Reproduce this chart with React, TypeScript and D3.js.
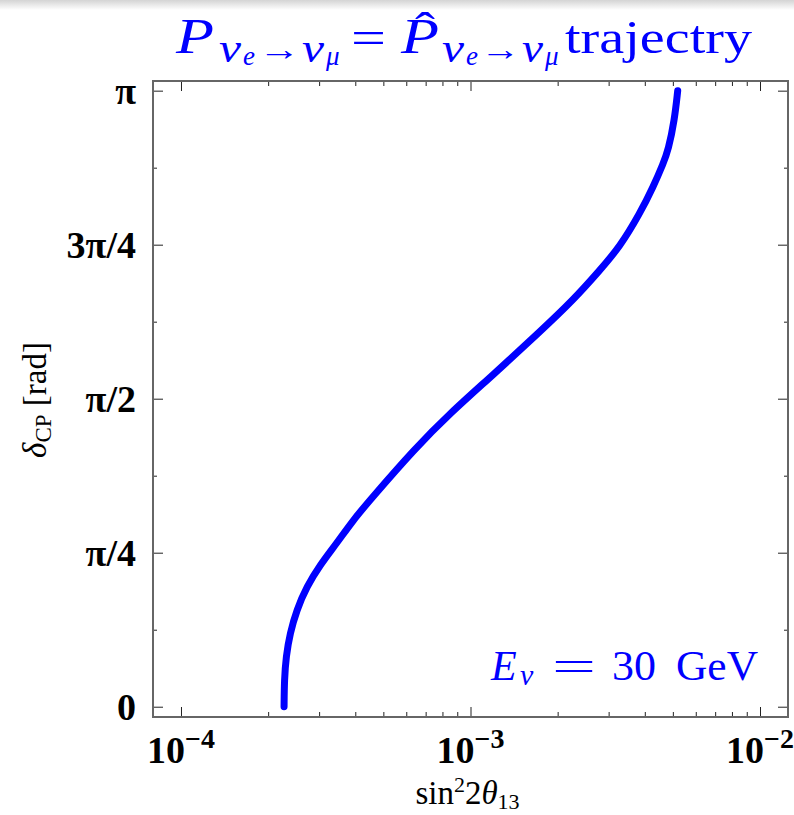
import React, { useEffect, useRef } from 'react';
import * as d3 from 'd3';

// points read along the trajectory: sin^2 2theta13 and delta_CP (in units of pi)
const sin2Theta13 = [2.270e-4, 2.275e-4, 2.306e-4, 2.380e-4, 2.510e-4, 2.718e-4, 3.021e-4, 3.450e-4, 3.936e-4, 4.496e-4,
    6.434e-4, 8.501e-4, 1.177e-3, 1.738e-3, 2.265e-3, 2.802e-3, 3.283e-3, 3.850e-3, 4.280e-3, 4.635e-3,
    4.823e-3, 5.066e-3, 5.197e-3];
const deltaCP = [0, 0.0433, 0.0812, 0.1192, 0.1570, 0.1948, 0.2300, 0.2653, 0.3031, 0.3356,
    0.4195, 0.4763, 0.5357, 0.6088, 0.6602, 0.7089, 0.7468, 0.8010, 0.8442, 0.8821,
    0.9037, 0.9524, 1.0];

const yTicks = [0, 0.25, 0.5, 0.75, 1];
const yTickLabels = ['0', 'π/4', 'π/2', '3π/4', 'π'];
const yMinorTicks = [0.125, 0.375, 0.625, 0.875];
const xTicks = [1e-4, 1e-3, 1e-2];
const xTickExponents = ['−4', '−3', '−2'];

const SERIF = '"Liberation Serif", "Times New Roman", serif';
const BLUE = '#0000ff';

const App = () => {
    const svgRef = useRef(null);
    const width = 794;
    const height = 815;

    const margin = { top: 81, right: 6, bottom: 98, left: 153 };
    const innerWidth = width - margin.left - margin.right;
    const innerHeight = height - margin.top - margin.bottom;

    useEffect(() => {
        const svg = d3.select(svgRef.current);
        svg.selectAll('*').remove();

        // screenshot shade along the top edge
        const grad = svg.append('defs').append('linearGradient')
            .attr('id', 'topShade').attr('x1', 0).attr('y1', 0).attr('x2', 0).attr('y2', 1);
        grad.append('stop').attr('offset', '0%').attr('stop-color', '#d4d4d4');
        grad.append('stop').attr('offset', '100%').attr('stop-color', '#ffffff');
        svg.append('rect').attr('x', 0).attr('y', 0).attr('width', width).attr('height', 10)
            .attr('fill', 'url(#topShade)');

        const xScale = d3.scaleLog()
            .domain([Math.pow(10, -4.0967), Math.pow(10, -1.9033)])
            .range([0, innerWidth]);

        const yScale = d3.scaleLinear()
            .domain([-0.0167, 1.0157])
            .range([innerHeight, 0]);

        const g = svg.append('g').attr('transform', `translate(${margin.left}, ${margin.top})`);

        const xMinor = xScale.ticks().filter(v => v > 1.0001e-4 && v < 0.9999e-2 && !xTicks.some(t => Math.abs(t - v) / t < 1e-6));

        const styleAxis = (sel) => {
            sel.select('.domain').remove();
            sel.selectAll('line').attr('stroke', '#222').attr('stroke-width', 1);
            sel.selectAll('text').remove();
        };

        // inward ticks on all four sides
        g.append('g').attr('transform', `translate(0, ${innerHeight})`)
            .call(d3.axisBottom(xScale).tickValues(xTicks).tickSize(-10)).call(styleAxis);
        g.append('g').attr('transform', `translate(0, ${innerHeight})`)
            .call(d3.axisBottom(xScale).tickValues(xMinor).tickSize(-5)).call(styleAxis);
        g.append('g')
            .call(d3.axisTop(xScale).tickValues(xTicks).tickSize(-10)).call(styleAxis);
        g.append('g')
            .call(d3.axisTop(xScale).tickValues(xMinor).tickSize(-5)).call(styleAxis);
        g.append('g')
            .call(d3.axisLeft(yScale).tickValues(yTicks).tickSize(-10)).call(styleAxis);
        g.append('g')
            .call(d3.axisLeft(yScale).tickValues(yMinorTicks).tickSize(-4)).call(styleAxis);
        g.append('g').attr('transform', `translate(${innerWidth}, 0)`)
            .call(d3.axisRight(yScale).tickValues(yTicks).tickSize(-10)).call(styleAxis);
        g.append('g').attr('transform', `translate(${innerWidth}, 0)`)
            .call(d3.axisRight(yScale).tickValues(yMinorTicks).tickSize(-4)).call(styleAxis);

        g.append('rect')
            .attr('x', 0).attr('y', 0)
            .attr('width', innerWidth).attr('height', innerHeight)
            .attr('fill', 'none').attr('stroke', '#666').attr('stroke-width', 2);

        // trajectory
        const line = d3.line()
            .curve(d3.curveBasis)
            .x(d => xScale(d[0]))
            .y(d => yScale(d[1]));

        g.append('path')
            .datum(sin2Theta13.map((s, i) => [s, deltaCP[i]]))
            .attr('fill', 'none')
            .attr('stroke', BLUE)
            .attr('stroke-width', 7)
            .attr('stroke-linecap', 'round')
            .attr('stroke-linejoin', 'round')
            .attr('d', line);

        // y tick labels
        yTicks.forEach((v, i) => {
            svg.append('text')
                .attr('x', margin.left - 17)
                .attr('y', margin.top + yScale(v))
                .attr('dy', '0.35em')
                .attr('text-anchor', 'end')
                .attr('font-family', SERIF)
                .attr('font-weight', 'bold')
                .attr('font-size', 38)
                .text(yTickLabels[i]);
        });

        // x tick labels 10^n
        xTicks.forEach((v, i) => {
            const t = svg.append('text')
                .attr('x', margin.left + xScale(v))
                .attr('y', 763)
                .attr('text-anchor', 'middle')
                .attr('font-family', SERIF)
                .attr('font-weight', 'bold')
                .attr('font-size', 38);
            t.append('tspan').text('10');
            t.append('tspan').attr('dy', -15).attr('font-size', 28).text(xTickExponents[i]);
        });

        // x axis label
        const xl = svg.append('text')
            .attr('x', margin.left + innerWidth / 2 - 3)
            .attr('y', 804)
            .attr('text-anchor', 'middle')
            .attr('font-family', SERIF)
            .attr('font-size', 33);
        xl.append('tspan').text('sin');
        xl.append('tspan').attr('dy', -12).attr('font-size', 22).text('2');
        xl.append('tspan').attr('dy', 12).text('2');
        xl.append('tspan').attr('font-style', 'italic').text('θ');
        xl.append('tspan').attr('dy', 5).attr('font-size', 22).text('13');

        // y axis label
        const yl = svg.append('text')
            .attr('transform', `translate(46, ${margin.top + innerHeight / 2 + 1}) rotate(-90)`)
            .attr('text-anchor', 'middle')
            .attr('font-family', SERIF)
            .attr('font-size', 33);
        yl.append('tspan').attr('font-style', 'italic').text('δ');
        yl.append('tspan').attr('dy', 5).attr('font-size', 23).text('CP');
        yl.append('tspan').attr('dy', -5).text(' [rad]');

        // title
        const piece = (txt, x, y, size, italic, len?) => {
            const t = svg.append('text')
                .attr('x', x).attr('y', y)
                .attr('font-family', SERIF)
                .attr('font-size', size)
                .attr('font-style', italic ? 'italic' : 'normal')
                .attr('fill', BLUE)
                .text(txt);
            if (len) t.attr('textLength', len).attr('lengthAdjust', 'spacingAndGlyphs');
            return t;
        };
        piece('P', 176, 53, 50, true, 38);
        piece('ν', 219, 62, 40, true, 22);
        piece('e', 243, 65, 27, true);
        piece('→', 258, 60, 32, false, 42);
        piece('ν', 302, 62, 40, true, 22);
        piece('μ', 326, 65, 27, true);
        piece('=', 351, 53, 46, false, 35);
        piece('P', 401, 53, 50, true, 38);
        piece('ˆ', 415, 45, 46, false, 20);
        piece('ν', 442, 62, 40, true, 22);
        piece('e', 466, 65, 27, true);
        piece('→', 480, 60, 32, false, 40);
        piece('ν', 522, 62, 40, true, 21);
        piece('μ', 545, 65, 27, true);
        piece('trajectry', 565, 53, 47, false, 187);

        // energy annotation
        piece('E', 491, 680, 42, true);
        piece('ν', 520, 685, 30, true);
        piece('=', 552, 680, 42, false, 44);
        piece('30', 612, 680, 42, false, 44);
        piece('GeV', 676, 680, 42, false, 82);
    }, []);

    return (
        <svg ref={svgRef} width={width} height={height}
            style={{ position: 'absolute', left: 0, top: 0, background: '#fff' }} />
    );
};

export default App;
